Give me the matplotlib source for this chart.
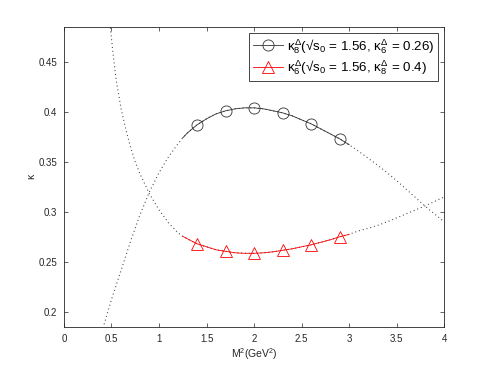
import matplotlib
matplotlib.use("Agg")
import matplotlib.pyplot as plt

plt.rcParams["font.family"] = ["Liberation Sans", "DejaVu Sans"]
plt.rcParams["mathtext.fontset"] = "custom"
plt.rcParams["mathtext.rm"] = "Liberation Sans"
plt.rcParams["mathtext.it"] = "Liberation Sans"
plt.rcParams["mathtext.bf"] = "Liberation Sans:bold"

# sum-rule points
m2_pts = [1.4, 1.7, 2.0, 2.3, 2.6, 2.9]
kappa8_pts = [0.387, 0.401, 0.404, 0.399, 0.388, 0.373]
kappa6_pts = [0.268, 0.261, 0.259, 0.262, 0.267, 0.275]

# curves
m2_k8 = [0.40, 0.50, 0.60, 0.70, 0.80, 0.90, 1.00, 1.10, 1.20, 1.25, 1.30, 1.40,
         1.50, 1.60, 1.70, 1.80, 1.90, 2.00, 2.10, 2.20, 2.30, 2.40, 2.50, 2.60,
         2.70, 2.80, 2.90, 3.00, 3.10, 3.20, 3.30, 3.40, 3.50, 3.60, 3.70, 3.80,
         3.90, 4.00]
kappa8_curve = [0.180, 0.212, 0.241, 0.270, 0.297, 0.320, 0.339, 0.355, 0.368, 0.374,
                0.379, 0.387, 0.393, 0.398, 0.401, 0.403, 0.404, 0.404, 0.403, 0.401,
                0.399, 0.396, 0.392, 0.388, 0.383, 0.378, 0.373, 0.367, 0.3605, 0.3535,
                0.3465, 0.339, 0.331, 0.3225, 0.314, 0.3055, 0.2975, 0.290]

m2_k6 = [0.48, 0.52, 0.55, 0.60, 0.65, 0.70, 0.75, 0.80, 0.90, 1.00, 1.10, 1.20,
         1.25, 1.30, 1.40, 1.50, 1.60, 1.70, 1.80, 1.90, 2.00, 2.10, 2.20, 2.30,
         2.40, 2.50, 2.60, 2.70, 2.80, 2.90, 3.00, 3.10, 3.20, 3.30, 3.40, 3.50,
         3.60, 3.70, 3.80, 3.90, 4.00]
kappa6_curve = [0.492, 0.456, 0.432, 0.404, 0.383, 0.365, 0.350, 0.338, 0.318, 0.302,
                0.289, 0.279, 0.2755, 0.273, 0.268, 0.265, 0.262, 0.2605, 0.259, 0.2585,
                0.2585, 0.259, 0.260, 0.2615, 0.263, 0.265, 0.267, 0.2695, 0.272, 0.275,
                0.2775, 0.281, 0.2835, 0.2865, 0.290, 0.294, 0.298, 0.302, 0.306, 0.3105,
                0.315]

solid_lo, solid_hi = 1.25, 3.0

fig = plt.figure(figsize=(4.91, 3.68), dpi=100)
ax = fig.add_axes([0.13, 0.112, 0.775, 0.815])

dots = (0, (0.9, 2.6))
ax.plot(m2_k8, kappa8_curve, linestyle=dots, color="#444444", lw=0.8)
ax.plot(m2_k6, kappa6_curve, linestyle=dots, color="#444444", lw=0.8)

k8_sel = [(x, y) for x, y in zip(m2_k8, kappa8_curve) if solid_lo <= x <= solid_hi]
k6_sel = [(x, y) for x, y in zip(m2_k6, kappa6_curve) if solid_lo <= x <= solid_hi]
ax.plot([p[0] for p in k8_sel], [p[1] for p in k8_sel], "-", color="#333333", lw=0.6)
ax.plot([p[0] for p in k6_sel], [p[1] for p in k6_sel], "-", color="red", lw=0.6)

ax.plot(m2_pts, kappa8_pts, "o", color="#333333", mfc="none", ms=8, mew=0.6)
ax.plot(m2_pts, kappa6_pts, "^", color="red", mfc="none", ms=8.5, mew=0.6)

# legend entries
ax.plot([], [], "-o", color="#333333", mfc="none", ms=8, mew=0.6, lw=0.6,
        label=r"$\kappa_8^\Delta$(√s$_0$ = 1.56, $\kappa_6^\Delta$ = 0.26)")
ax.plot([], [], "-^", color="red", mfc="none", ms=8.5, mew=0.6, lw=0.6,
        label=r"$\kappa_6^\Delta$(√s$_0$ = 1.56, $\kappa_8^\Delta$ = 0.4)")

ax.set_xlim(0, 4)
ax.set_ylim(0.185, 0.485)
ax.set_xticks([0, 0.5, 1, 1.5, 2, 2.5, 3, 3.5, 4])
ax.set_xticklabels(["0", "0.5", "1", "1.5", "2", "2.5", "3", "3.5", "4"])
ax.set_yticks([0.2, 0.25, 0.3, 0.35, 0.4, 0.45])
ax.set_yticklabels(["0.2", "0.25", "0.3", "0.35", "0.4", "0.45"])
ax.tick_params(direction="in", top=True, right=True, labelsize=7, length=3,
               width=0.5, color="#262626", labelcolor="#262626", pad=5)
for s in ax.spines.values():
    s.set_linewidth(0.6)
    s.set_color("#262626")

ax.set_xlabel(r"M$^2$(GeV$^2$)", fontsize=7.5, color="#262626", labelpad=2)
ax.set_ylabel(r"$\kappa$", fontsize=7.5, color="#262626", labelpad=1)

leg = ax.legend(loc="upper right", fontsize=9.6, handlelength=2.2, frameon=True,
                fancybox=False, framealpha=1, edgecolor="#262626",
                borderaxespad=0.45, borderpad=0.3, labelspacing=0.2,
                handletextpad=0.3)
leg.get_frame().set_linewidth(0.6)

fig.savefig("out.png", dpi=100)
